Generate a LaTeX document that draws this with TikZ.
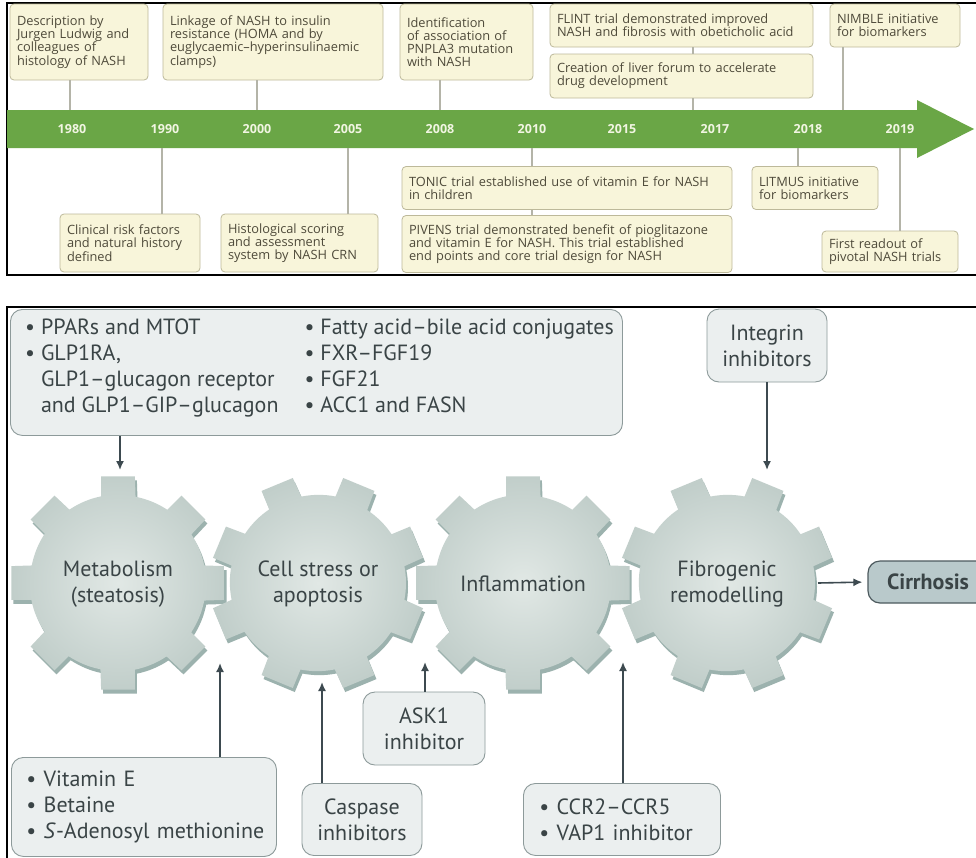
\documentclass[tikz,border=0pt]{standalone}
\usepackage{fontspec}
\setmainfont{PT Sans}
\newfontfamily\topfont{Open Sans}
\usetikzlibrary{arrows.meta,calc}
\definecolor{boxfill}{HTML}{F8F5DA}
\definecolor{boxline}{HTML}{BDB99A}
\definecolor{boxtext}{HTML}{4E4A3A}
\definecolor{bandgreen}{HTML}{6AA646}
\definecolor{yeartext}{HTML}{F1F5E2}
\definecolor{tline}{HTML}{B4B4A8}
\definecolor{gfill}{HTML}{EBEFEF}
\definecolor{gline}{HTML}{8D9A9A}
\definecolor{gtext}{HTML}{3A4446}
\definecolor{arrcol}{HTML}{3D4A50}
\definecolor{gearin}{HTML}{E1E8E5}
\definecolor{gearout}{HTML}{C1CECA}
\definecolor{gearshadow}{HTML}{9CB2AE}
\definecolor{cirrfill}{HTML}{B9C9CB}
\definecolor{cirrline}{HTML}{4D5A5E}
\newcommand{\gearpath}[1]{({#1-34}:88) foreach \k in {0,...,7} { arc[start angle={#1+\k*45-34}, end angle={#1+\k*45-11.5}, radius=88] -- ({#1+\k*45-9}:108) -- ({#1+\k*45+9}:108) -- ({#1+\k*45+11.5}:88) } -- cycle}
\newcommand{\drawgear}[3]{%
  \fill[gearshadow, shift={(#1+2,#2+4)}] \gearpath{#3};
  \shade[inner color=gearin, outer color=gearout, shift={(#1,#2)}] \gearpath{#3};
}
\begin{document}
\begin{tikzpicture}[x=1pt,y=-1pt,
  tb/.style={draw=boxline, fill=boxfill, line width=0.8pt, rounded corners=4pt,
    inner xsep=7pt, inner ysep=2pt, align=left, text=boxtext,
    font=\topfont\fontsize{12.8}{13.2}\selectfont},
  tl/.style={draw=tline, line width=1.1pt},
  year/.style={text=yeartext, font=\topfont\fontsize{12.5}{14}\selectfont\bfseries},
  gb/.style={draw=gline, fill=gfill, line width=0.9pt, rounded corners=12pt,
    text=gtext, font=\fontsize{22}{26}\selectfont},
  geartext/.style={text=gtext, align=center, font=\fontsize{22}{26}\selectfont},
  arr/.style={draw=arrcol, line width=1.6pt, -{Latex[length=9pt,width=8pt]}}
]
\useasboundingbox (0,0) rectangle (976,857);
\fill[white] (0,0) rectangle (976,857);

% ---------- top panel ----------
\draw[black, line width=1.4pt] (7,3) rectangle (990,275);
\fill[bandgreen] (7,110) -- (917,110) -- (917,100) -- (974,129) -- (917,158) -- (917,148) -- (7,148) -- cycle;

\foreach \yr/\xx in {1980/72,1990/165,2000/257,2005/348,2008/440,2010/532,2015/622,2017/715,2018/808,2019/900}
  \node[year] (y\yr) at (\xx,129) {\yr};

\node[tb, text width=124pt, minimum height=76pt] (b1) at (79,42) {Description by\\Jurgen Ludwig and\\colleagues of\\histology of NASH};
\node[tb, text width=206pt, minimum height=76pt] (b2) at (273,42) {Linkage of NASH to insulin\\resistance (HOMA and by\\euglycaemic–hyperinsulinaemic\\clamps)};
\node[tb, text width=119pt, minimum height=76pt] (b3) at (466.5,42) {Identification\\of association of\\PNPLA3 mutation\\with NASH};
\node[tb, text width=249pt, minimum height=43pt] (b4) at (681.5,25.5) {FLINT trial demonstrated improved\\NASH and fibrosis with obeticholic acid};
\node[tb, text width=249pt, minimum height=44pt] (b5) at (681.5,76) {Creation of liver forum to accelerate\\drug development};
\node[tb, text width=116pt, minimum height=43pt] (b6) at (895,25.5) {NIMBLE initiative\\for biomarkers};

\node[tb, text width=126pt, minimum height=58pt] (b7) at (130,243) {Clinical risk factors\\and natural history\\defined};
\node[tb, text width=143pt, minimum height=58pt] (b8) at (299.5,243) {Histological scoring\\and assessment\\system by NASH CRN};
\node[tb, text width=316pt, minimum height=43pt] (b9) at (567,188) {TONIC trial established use of vitamin E for NASH\\in children};
\node[tb, text width=316pt, minimum height=57pt] (b10) at (567,244) {PIVENS trial demonstrated benefit of pioglitazone\\and vitamin E for NASH. This trial established\\end points and core trial design for NASH};
\node[tb, text width=112pt, minimum height=43pt] (b11) at (815,188) {LITMUS initiative\\for biomarkers};
\node[tb, text width=122pt, minimum height=41pt] (b12) at (890,251.5) {First readout of\\pivotal NASH trials};

\coordinate (c1) at (70,110);
\coordinate (c2) at (257,110);
\coordinate (c3) at (440,110);
\coordinate (c4) at (693,110);
\coordinate (c6) at (843,110);
\coordinate (c7) at (162,148);
\coordinate (c8) at (348,148);
\coordinate (c9) at (532,148);
\coordinate (c11) at (798,148);
\coordinate (c12) at (900,148);

\draw[tl] (c1 |- b1.south) -- (c1);
\draw[tl] (c2 |- b2.south) -- (c2);
\draw[tl] (c3 |- b3.south) -- (c3);
\draw[tl] (c4 |- b4.south) -- (c4 |- b5.north);
\draw[tl] (c4 |- b5.south) -- (c4);
\draw[tl] (c6 |- b6.south) -- (c6);
\draw[tl] (c7) -- (c7 |- b7.north);
\draw[tl] (c8) -- (c8 |- b8.north);
\draw[tl] (c9) -- (c9 |- b9.north);
\draw[tl] (c9 |- b9.south) -- (c9 |- b10.north);
\draw[tl] (c11) -- (c11 |- b11.north);
\draw[tl] (c12) -- (c12 |- b12.north);

% ---------- bottom panel ----------
\draw[black, line width=1.4pt] (7,307) rectangle (990,870);

\drawgear{118}{583}{0}
\drawgear{318}{583}{22.5}
\drawgear{523}{583}{0}
\drawgear{727}{583}{22.5}

\node[geartext] (g1) at (118,584) {Metabolism\\(steatosis)};
\node[geartext] (g2) at (318,584) {Cell stress or\\apoptosis};
\node[geartext] (g3) at (523,584) {Inflammation};
\node[geartext] (g4) at (727,584) {Fibrogenic\\remodelling};

\node[gb, minimum width=612pt, minimum height=126pt, anchor=north west] (mech) at (10,309) {};
\node[text=gtext, font=\fontsize{22}{26}\selectfont, anchor=north west, inner sep=0pt] (mechtxt) at (25,316)
 {\begin{tabular}{@{}l@{\hspace{26pt}}l@{}}
 \textbullet\ PPARs and MTOT & \textbullet\ Fatty acid–bile acid conjugates\\
 \textbullet\ GLP1RA, & \textbullet\ FXR–FGF19\\
 \phantom{\textbullet\ }GLP1–glucagon receptor & \textbullet\ FGF21\\
 \phantom{\textbullet\ }and GLP1–GIP–glucagon & \textbullet\ ACC1 and FASN
 \end{tabular}};

\node[gb, align=center, minimum width=120pt, minimum height=73pt] (integ) at (767,345.5) {Integrin\\inhibitors};

\node[draw=cirrline, fill=cirrfill, line width=1.2pt, rounded corners=12pt, minimum width=120pt, minimum height=42pt,
  text=gtext, font=\fontsize{22}{26}\selectfont\bfseries] (cirr) at (928,582) {Cirrhosis};

\node[gb, align=left, text width=235pt, inner xsep=15pt, minimum height=99pt, anchor=north west] (vit) at (11,757)
 {\textbullet\ Vitamin E\\\textbullet\ Betaine\\\mbox{\textbullet\ \textit{S}-Adenosyl methionine}};
\node[gb, align=center, minimum width=120pt, minimum height=72pt] (casp) at (362,819.5) {Caspase\\inhibitors};
\node[gb, align=center, minimum width=122pt, minimum height=73pt] (ask) at (424,728.5) {ASK1\\inhibitor};
\node[gb, align=left, text width=165pt, inner xsep=16pt, minimum height=72pt, anchor=north west] (ccr) at (523,783)
 {\textbullet\ CCR2–CCR5\\\textbullet\ VAP1 inhibitor};

\coordinate (a1) at (120,470);
\coordinate (a2) at (767,470);
\coordinate (a3) at (220,663);
\coordinate (a4) at (322,682);
\coordinate (a5) at (425,662);
\coordinate (a6) at (623,662);
\coordinate (a7) at (818,583);

\draw[arr] (a1 |- mech.south) -- (a1);
\draw[arr] (integ.south) -- (a2);
\draw[arr] (a3 |- vit.north) -- (a3);
\draw[arr] (a4 |- casp.north) -- (a4);
\draw[arr] (a5 |- ask.north) -- (a5);
\draw[arr] (a6 |- ccr.north) -- (a6);
\draw[arr, shorten >=5pt] (a7) -- (cirr.west);
\end{tikzpicture}
\end{document}
